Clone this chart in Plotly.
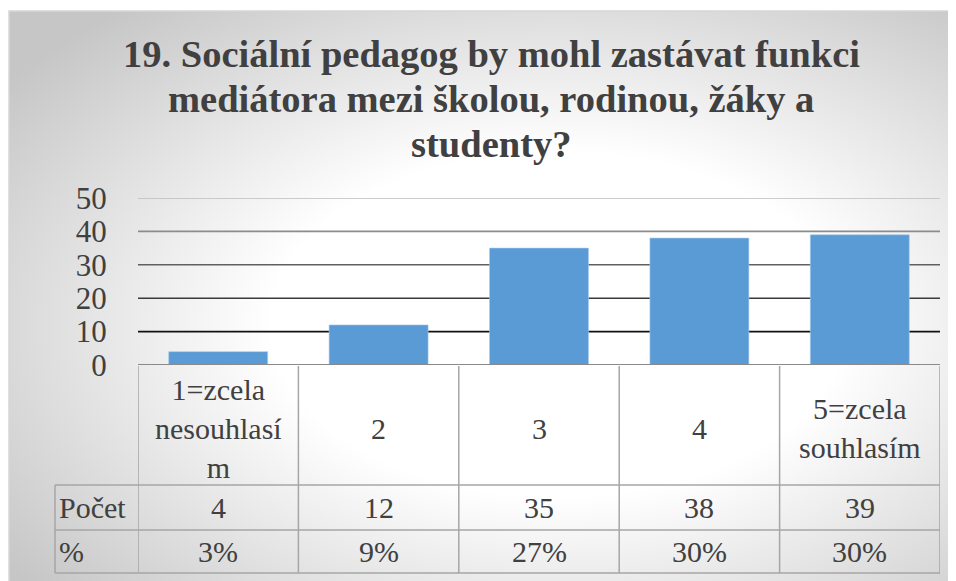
import base64
import plotly.graph_objects as go

# ---- data ----
categories = ["1=zcela<br>nesouhlasí<br>m", "2", "3", "4", "5=zcela<br>souhlasím"]
counts = [4, 12, 35, 38, 39]
percents = ["3%", "9%", "27%", "30%", "30%"]
row_labels = ["Počet", "%"]
y_ticks = [0, 10, 20, 30, 40, 50]
title_lines = ["19. Sociální pedagog by mohl zastávat funkci",
               "mediátora mezi školou, rodinou, žáky a",
               "studenty?"]

# ---- style ----
OFF = 8  # page body margin
W, H = 956 - OFF, 581 - OFF
FONT = "Liberation Serif, Times New Roman, serif"
TXT = "#404040"
BAR = "#5B9BD5"
GRID_COLORS = {10: "#111111", 20: "#3a3a3a", 30: "#606060", 40: "#8c8c8c", 50: "#bdbdbd"}
TABLE_LINE = "#a6a6a6"


def px(x):
    return (x - OFF) / W


def py(y):
    return 1 - (y - OFF) / H


xs = list(range(len(categories)))

fig = go.Figure()
fig.add_trace(go.Bar(
    x=xs, y=counts,
    marker=dict(color=BAR, line=dict(color="#a9c9ea", width=0.6)),
    hoverinfo="skip",
))

# background radial gradient
svg = ('<svg xmlns="http://www.w3.org/2000/svg" width="947" height="570" viewBox="0 0 947 570" '
       'preserveAspectRatio="none"><defs><radialGradient id="g" cx="0.58" cy="0.55" r="0.72">'
       '<stop offset="0" stop-color="#ffffff"/><stop offset="0.42" stop-color="#ffffff"/>'
       '<stop offset="1" stop-color="#c6c6c6"/></radialGradient></defs>'
       '<rect width="947" height="570" fill="url(#g)"/></svg>')
src = "data:image/svg+xml;base64," + base64.b64encode(svg.encode()).decode()

shapes = []
# outer border
shapes.append(dict(type="rect", xref="paper", yref="paper", x0=px(9), y0=-0.02, x1=1.02, y1=py(11),
                   line=dict(color="#d6d6d6", width=1.5), layer="below"))
# gridlines
for v in y_ticks[1:]:
    shapes.append(dict(type="line", xref="x", yref="y", x0=-0.5, x1=len(xs) - 0.5, y0=v, y1=v,
                       line=dict(color=GRID_COLORS[v], width=1.6), layer="below"))
# axis line
shapes.append(dict(type="line", xref="x", yref="y", x0=-0.5, x1=len(xs) - 0.5, y0=0, y1=0,
                   line=dict(color="#8a8a8a", width=2), layer="above"))
# table vertical lines
for i in range(len(xs) + 1):
    shapes.append(dict(type="line", xref="x", yref="paper", x0=i - 0.5, x1=i - 0.5,
                       y0=py(366), y1=py(573), line=dict(color=TABLE_LINE, width=1.5)))
shapes.append(dict(type="line", xref="paper", yref="paper", x0=px(55), x1=px(55),
                   y0=py(485), y1=py(573), line=dict(color=TABLE_LINE, width=1.5)))
# table horizontal lines
for yy in [485, 530, 573]:
    shapes.append(dict(type="line", xref="paper", yref="paper", x0=px(55), x1=px(940),
                       y0=py(yy), y1=py(yy), line=dict(color=TABLE_LINE, width=1.5)))

annotations = []
# title
for line, yc in zip(title_lines, [54, 99, 144]):
    annotations.append(dict(text="<b>" + line + "</b>", xref="paper", yref="paper", x=px(491), y=py(yc),
                            xanchor="center", yanchor="middle", showarrow=False,
                            font=dict(family=FONT, size=38.5, color=TXT)))
# category row
for x, c in zip(xs, categories):
    annotations.append(dict(text=c, xref="x", yref="paper", x=x, y=py(428), xanchor="center",
                            yanchor="middle", showarrow=False,
                            font=dict(family=FONT, size=30, color=TXT)))
# count row and percent row
for rowvals, yc in [(counts, 507), (percents, 551)]:
    for x, v in zip(xs, rowvals):
        annotations.append(dict(text=str(v), xref="x", yref="paper", x=x, y=py(yc), xanchor="center",
                                yanchor="middle", showarrow=False,
                                font=dict(family=FONT, size=30, color=TXT)))
for lab, yc in zip(row_labels, [507, 551]):
    annotations.append(dict(text=lab, xref="paper", yref="paper", x=px(57), y=py(yc), xanchor="left",
                            yanchor="middle", showarrow=False,
                            font=dict(family=FONT, size=30, color=TXT)))

fig.update_layout(
    width=W, height=H,
    margin=dict(l=0, r=0, t=0, b=0),
    paper_bgcolor="white",
    plot_bgcolor="rgba(0,0,0,0)",
    showlegend=False,
    bargap=0.383,
    font=dict(family=FONT),
    xaxis=dict(domain=[px(138), px(940)], range=[-0.5, len(xs) - 0.5], showticklabels=False,
               showgrid=False, zeroline=False, showline=False, ticks="", fixedrange=True),
    yaxis=dict(domain=[py(365), py(198)], range=[0, 50], tickvals=y_ticks, showgrid=False,
               zeroline=False, showline=False, ticks="outside", ticklen=24,
               tickcolor="rgba(0,0,0,0)", automargin=False,
               tickfont=dict(family=FONT, size=31, color=TXT), fixedrange=True),
    images=[dict(source=src, xref="paper", yref="paper", x=px(9), y=py(11),
                 sizex=1 - px(9), sizey=py(11), xanchor="left", yanchor="top",
                 sizing="stretch", layer="below")],
    shapes=shapes,
    annotations=annotations,
)

fig.write_html("out.html")
